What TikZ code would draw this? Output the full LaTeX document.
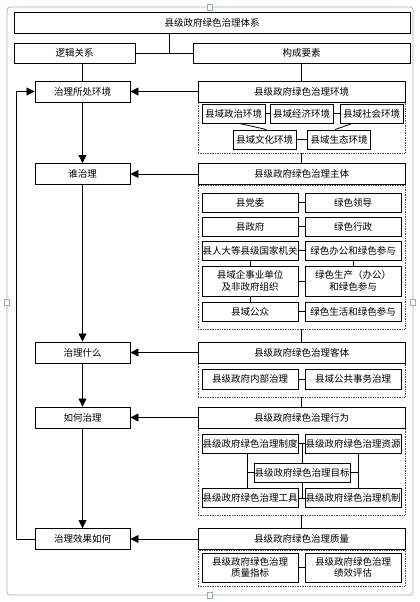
\documentclass[tikz,border=0pt]{standalone}
\usepackage{fontspec}
\newfontfamily\cjk{Noto Sans CJK SC}
\usetikzlibrary{arrows.meta}
\definecolor{framecol}{RGB}{150,172,196}

\tikzset{
	every node/.style={font=\cjk\fontsize{9.5}{11.5}\selectfont, inner sep=0pt, align=center},
	bar/.style={draw, line width=0.9pt, minimum width=#1, minimum height=20pt},
	stage/.style={draw, line width=0.9pt, minimum width=95pt, minimum height=21pt},
	aspect/.style={draw, line width=0.9pt, minimum width=207pt, minimum height=21pt},
	item/.style={draw, line width=0.9pt, minimum width=96pt, minimum height=19pt},
	envitem/.style={item, minimum width=63pt},
	zone/.style={draw=black!70, densely dotted, line width=0.7pt, minimum width=207pt, minimum height=#1},
	link/.style={line width=0.8pt},
	feed/.style={line width=0.8pt, -{Triangle[length=8pt,width=8pt]}}
}

\begin{document}
\begin{tikzpicture}[x=1pt,y=-1pt]
	\useasboundingbox (0,0) rectangle (420,602);
	% frame of the figure
	\draw[framecol, line width=0.6pt, rounded corners=3pt] (7,7) rectangle (413,595);
	\foreach \p in {(210,7),(7,302),(413,302),(210,595)}
		\draw[framecol, fill=white, line width=0.5pt] \p +(-2.5,-3) rectangle +(2.5,3);

	% top
	\node[bar=396pt, minimum height=21pt] (title) at (212,22.5) {县级政府绿色治理体系};
	\node[bar=121pt] (logic) at (74.5,53) {逻辑关系};
	\node[bar=217pt] (parts) at (301.5,53) {构成要素};
	\coordinate (fork) at (169,53);
	\draw[link] (title.south -| fork) -- (fork);
	\draw[link] (logic) -- (parts);

	% left column
	\node[stage] (env) at (82.5,91.5) {治理所处环境};
	\node[stage] (who) at (82.5,174) {谁治理};
	\node[stage] (what) at (82.5,352.5) {治理什么};
	\node[stage] (how) at (82.5,417.5) {如何治理};
	\node[stage] (effect) at (82.5,539) {治理效果如何};
	\draw[link] (env.north |- logic.south) -- (env.north);
	\draw[feed] (env) -- (who);
	\draw[feed] (who) -- (what);
	\draw[feed] (what) -- (how);
	\draw[feed] (how) -- (effect);
	\draw[feed] (effect.west) -- ++(-18,0) |- (env.west);

	% right column
	\node[zone=51pt] (envz) at (301.5,127.5) {};
	\node[zone=144pt] (subz) at (301.5,257) {};
	\node[zone=34pt] (objz) at (301.5,380) {};
	\node[zone=87pt] (actz) at (301.5,471.5) {};
	\node[zone=36pt] (qualz) at (301.5,568) {};
	\node[aspect] (envh) at (301.5,91.5) {县级政府绿色治理环境};
	\node[aspect] (subj) at (301.5,174) {县级政府绿色治理主体};
	\node[aspect] (obj) at (301.5,352.5) {县级政府绿色治理客体};
	\node[aspect] (act) at (301.5,417.5) {县级政府绿色治理行为};
	\node[aspect] (qual) at (301.5,539) {县级政府绿色治理质量};
	\draw[link] (parts) -- (envh);
	\draw[link] (envz) -- (subj);
	\draw[link] (subz) -- (obj);
	\draw[link] (objz) -- (act);
	\draw[link] (actz) -- (qual);
	\draw[feed] (envh) -- (env);
	\draw[feed] (subj) -- (who);
	\draw[feed] (obj) -- (what);
	\draw[feed] (act) -- (how);
	\draw[feed] (qual) -- (effect);

	% environment
	\node[envitem] (pol) at (233.5,113.5) {县域政治环境};
	\node[envitem] (eco) at (301.5,113.5) {县域经济环境};
	\node[envitem] (soc) at (371.5,113.5) {县域社会环境};
	\node[envitem] (cul) at (264.5,139.5) {县域文化环境};
	\node[envitem] (nat) at (339,139.5) {县域生态环境};
	\draw[link] (pol) -- (eco);
	\draw[link] (eco) -- (soc);
	\draw[link] (cul) -- (nat);
	\draw[link] ([xshift=6pt]pol.south) -- ([xshift=2pt]cul.north);
	\draw[link] ([xshift=-19pt]soc.south) -- ([xshift=-4pt]nat.north);

	% subject
	\node[item] (s1l) at (250,202.5) {县党委};
	\node[item] (s1r) at (353,202.5) {绿色领导};
	\node[item] (s2l) at (250,226.5) {县政府};
	\node[item] (s2r) at (353,226.5) {绿色行政};
	\node[item] (s3l) at (250,250.5) {县人大等县级国家机关};
	\node[item] (s3r) at (353,250.5) {绿色办公和绿色参与};
	\node[item, minimum height=30pt] (s4l) at (250,281) {县域企事业单位\\及非政府组织};
	\node[item, minimum height=30pt] (s4r) at (353,281) {绿色生产（办公）\\和绿色参与};
	\node[item] (s5l) at (250,311.5) {县域公众};
	\node[item] (s5r) at (353,311.5) {绿色生活和绿色参与};
	\foreach \i in {1,...,5}
		\draw[link] (s\i l) -- (s\i r);
	\draw[link] (s3l) -- (s4l);
	\draw[link] (s4l) -- (s5l);
	\draw[link] (s3r) -- (s4r);

	% object
	\node[item, minimum height=20pt] (inner) at (250,379) {县级政府内部治理};
	\node[item, minimum height=20pt] (public) at (353,379) {县域公共事务治理};
	\draw[link] (inner) -- (public);

	% behaviour
	\node[item] (sys) at (250,443.5) {县级政府绿色治理制度};
	\node[item] (res) at (353,443.5) {县级政府绿色治理资源};
	\node[item] (goal) at (302,472.5) {县级政府绿色治理目标};
	\node[item] (tool) at (250,498) {县级政府绿色治理工具};
	\node[item] (mech) at (353,498) {县级政府绿色治理机制};
	\coordinate (bl) at (247,472.5);
	\coordinate (br) at (358,472.5);
	\draw[link] (sys) -- (res);
	\draw[link] (tool) -- (mech);
	\draw[link] (goal.north) -- (goal.north |- sys.east);
	\draw[link] (goal.south) -- (goal.south |- tool.east);
	\draw[link] (sys.south -| bl) -- (tool.north -| bl);
	\draw[link] (res.south -| br) -- (mech.north -| br);
	\draw[link] (goal.west) -- (bl);
	\draw[link] (goal.east) -- (br);

	% quality
	\node[item, minimum height=29pt] (index) at (250,567.5) {县级政府绿色治理\\质量指标};
	\node[item, minimum height=29pt] (assess) at (353,567.5) {县级政府绿色治理\\绩效评估};
	\draw[link] (index) -- (assess);
\end{tikzpicture}
\end{document}
